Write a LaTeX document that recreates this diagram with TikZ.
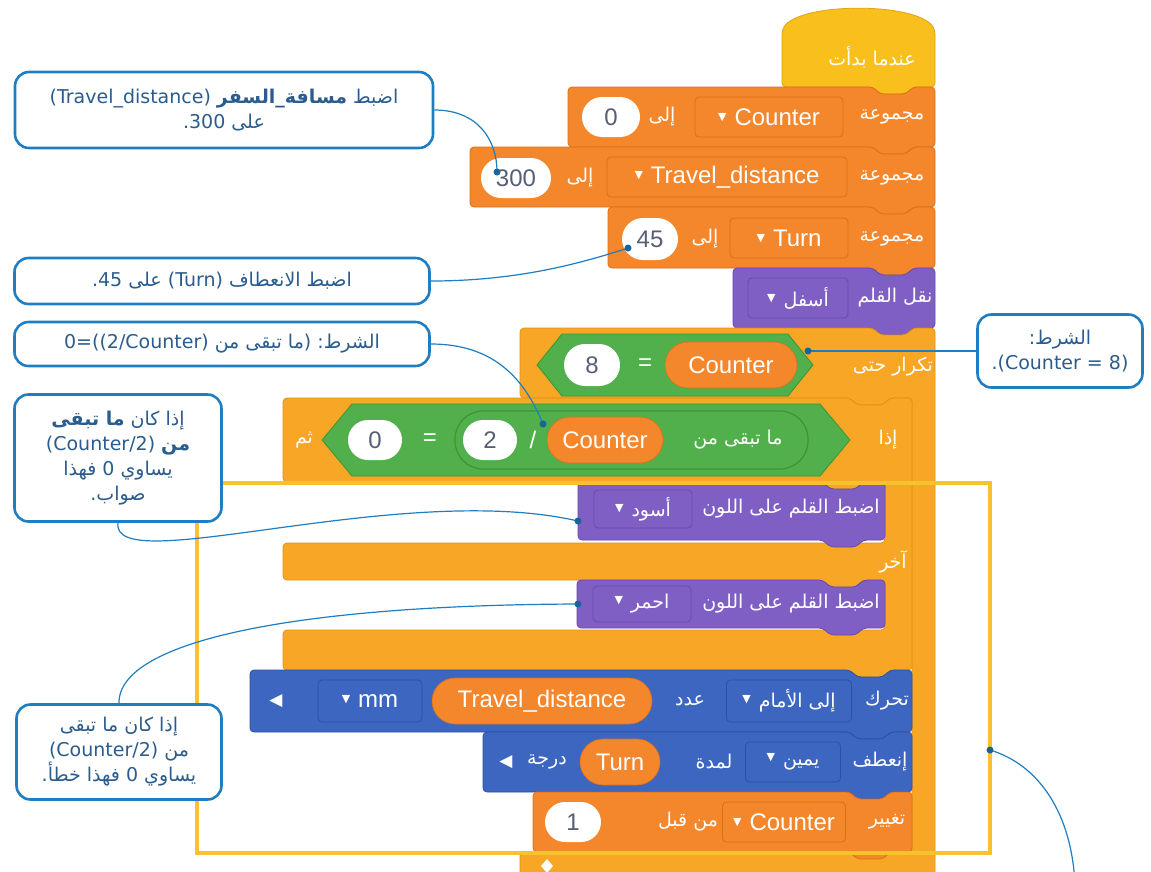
\documentclass[tikz,border=0pt]{standalone}
\usepackage{fontspec}
\usetikzlibrary{shapes.misc}
\TeXXeTstate=1
\newfontfamily\arabicfont[Script=Arabic]{DejaVu Sans}
\newfontfamily\latfont{DejaVu Sans}
\newfontfamily\blkfont{Liberation Sans}
\newcommand\ar[1]{{\arabicfont\beginR #1\endR}}
\newcommand\lat[1]{\beginL{\latfont #1}\endL}
\newcommand\tri{\raisebox{5pt}{\latfont\fontsize{11}{12}\selectfont ▼}}
\definecolor{hatY}{HTML}{F9BF1C}
\definecolor{hatYd}{HTML}{E0A612}
\definecolor{varO}{HTML}{F4862B}
\definecolor{varOd}{HTML}{D9701C}
\definecolor{ctlO}{HTML}{F7A725}
\definecolor{ctlOd}{HTML}{E29214}
\definecolor{penP}{HTML}{7F5FC3}
\definecolor{penPd}{HTML}{6849AE}
\definecolor{opG}{HTML}{51B04B}
\definecolor{opGd}{HTML}{3C9437}
\definecolor{motB}{HTML}{3C66C0}
\definecolor{motBd}{HTML}{2C52A6}
\definecolor{cBlue}{HTML}{1E7EC1}
\definecolor{cText}{HTML}{2A5C8E}
\definecolor{hl}{HTML}{F8C22E}
\definecolor{grayT}{HTML}{575E75}
\tikzset{
  blk/.style={line width=0.8pt, rounded corners=4pt},
  artxt/.style={text=white, font=\arabicfont\fontsize{19}{22}\selectfont, inner sep=0pt},
  lt/.style={text=white, font=\blkfont\fontsize{24}{28}\selectfont, inner sep=0pt},
  woval/.style={rounded rectangle, fill=white, text=grayT, font=\blkfont\fontsize{24}{28}\selectfont, inner sep=0pt},
  ooval/.style={rounded rectangle, fill=varO, draw=varOd, line width=0.6pt, text=white, font=\blkfont\fontsize{24}{28}\selectfont, inner sep=0pt},
  dd/.style={rectangle, rounded corners=4pt, draw=#1, line width=0.8pt, text=white, font=\blkfont\fontsize{24}{28}\selectfont, inner sep=0pt},
  ddar/.style={font=\arabicfont\fontsize{19}{22}\selectfont},
  callout/.style={rectangle, rounded corners=14pt, draw=cBlue, line width=2.6pt, fill=white, text=cText, align=center, font=\arabicfont\fontsize{19}{25}\selectfont, inner sep=2pt},
  conn/.style={draw=cBlue, line width=1.2pt},
  dotc/.style={fill=cBlue!80!black},
  hlbox/.style={draw=hl, line width=4pt},
  hexa/.style={fill=opG, draw=opGd, line width=0.8pt},
}
\newcommand\sblk[6]{\draw[blk, fill=#5, draw=#6] (#1,#2) -- ({#3-62},#2) -- ({#3-55},{#2+7}) -- ({#3-29},{#2+7}) -- ({#3-22},#2) -- (#3,#2) -- (#3,#4) -- ({#3-22},#4) -- ({#3-29},{#4+7}) -- ({#3-55},{#4+7}) -- ({#3-62},#4) -- (#1,#4) -- cycle;}
\begin{document}
\begin{tikzpicture}[x=1pt,y=-1pt]
\useasboundingbox (0,0) rectangle (1151,871);
\clip (0,0) rectangle (1151,871);
\fill[white] (0,0) rectangle (1151,871);
% ---------- top stack ----------
\draw[blk, fill=hatY, draw=hatYd] (782,87) -- (782,30) .. controls (800,2) and (917,2) .. (935,30) -- (935,87) -- (913,87) -- (906,94) -- (880,94) -- (873,87) -- cycle;
\node[artxt] (th) at (872,57) {\ar{عندما بدأت}};
% block 1
\sblk{568}{87}{935}{147}{varO}{varOd}
\node[artxt] (b1a) at (892,117) {\ar{مجموعة}};
\node[dd=varOd, fill=varO, minimum width=148pt, minimum height=40pt] (b1d) at (769,117) {\tri\hspace{8pt}Counter};
\node[artxt] (b1b) at (662,117) {\ar{إلى}};
\node[woval, minimum width=58pt, minimum height=40pt] (b1o) at (611,117) {0};
% block 2
\sblk{470}{147}{935}{207}{varO}{varOd}
\node[artxt] (b2a) at (892,178) {\ar{مجموعة}};
\node[dd=varOd, fill=varO, minimum width=240pt, minimum height=40pt] (b2d) at (727,177) {\tri\hspace{8pt}Travel\_distance};
\node[artxt] (b2b) at (580,178) {\ar{إلى}};
\node[woval, minimum width=70pt, minimum height=40pt] (b2o) at (516,178) {300};
% block 3
\sblk{608}{207}{935}{268}{varO}{varOd}
\node[artxt] (b3a) at (892,239) {\ar{مجموعة}};
\node[dd=varOd, fill=varO, minimum width=118pt, minimum height=40pt] (b3d) at (789,238) {\tri\hspace{8pt}Turn};
\node[artxt] (b3b) at (705,239) {\ar{إلى}};
\node[woval, minimum width=56pt, minimum height=42pt] (b3o) at (650,239) {45};
% block 4
\sblk{733}{268}{935}{328}{penP}{penPd}
\node[artxt] (b4a) at (895,298) {\ar{نقل القلم}};
\node[dd=penPd, fill=penP, ddar, minimum width=100pt, minimum height=40pt] (b4d) at (798,298) {\tri\hspace{8pt}\ar{أسفل}};
% ---------- repeat until ----------
\draw[blk, fill=ctlO, draw=ctlOd] (520,328) -- (873,328) -- (880,335) -- (906,335) -- (913,328) -- (935,328) -- (935,885) -- (520,885) -- (520,852) -- (912,852) -- (912,398) -- (890,398) -- (883,405) -- (857,405) -- (850,398) -- (520,398) -- cycle;
\node[artxt] (r1) at (893,367) {\ar{تكرار حتى}};
\draw[hexa] (537,365) -- (562,334) -- (788,334) -- (813,365) -- (788,396) -- (562,396) -- cycle;
\node[woval, minimum width=56pt, minimum height=42pt] (r8) at (592,365) {8};
\node[lt] (req) at (645,365) {=};
\node[ooval, minimum width=132pt, minimum height=46pt] (rc) at (731,365) {Counter};
\fill[white] (547,859) -- (553,866) -- (547,873) -- (541,866) -- cycle;
% ---------- if / else ----------
\draw[blk, fill=ctlO, draw=ctlOd] (283,398) -- (850,398) -- (857,405) -- (883,405) -- (890,398) -- (912,398) -- (912,670) -- (890,670) -- (883,677) -- (857,677) -- (850,670) -- (283,670) -- (283,630) -- (885,630) -- (885,580) -- (863,580) -- (856,587) -- (830,587) -- (823,580) -- (283,580) -- (283,543) -- (885,543) -- (885,482) -- (863,482) -- (856,489) -- (830,489) -- (823,482) -- (283,482) -- cycle;
\node[artxt] (i1) at (888,440) {\ar{إذا}};
\node[artxt] (i2) at (304,440) {\ar{ثم}};
\draw[hexa] (322,440) -- (352,404) -- (820,404) -- (850,440) -- (820,476) -- (352,476) -- cycle;
\node[woval, minimum width=54pt, minimum height=40pt] (i0) at (375,440) {0};
\node[lt] (ieq) at (430,440) {=};
\draw[fill=opG, draw=opGd, line width=1.2pt, rounded corners=28pt] (455,411) rectangle (808,469);
\node[woval, minimum width=54pt, minimum height=40pt] (i2o) at (490,440) {2};
\node[lt] (isl) at (533,440) {/};
\node[ooval, minimum width=116pt, minimum height=46pt] (ic) at (605,440) {Counter};
\node[artxt] (im) at (738,440) {\ar{ما تبقى من}};
\node[artxt] (e1) at (893,562) {\ar{آخر}};
% pen colour blocks
\sblk{578}{482}{885}{540}{penP}{penPd}
\node[artxt] (p1a) at (791,509) {\ar{اضبط القلم على اللون}};
\node[dd=penPd, fill=penP, ddar, minimum width=98pt, minimum height=38pt] (p1d) at (643,509) {\tri\hspace{8pt}\ar{أسود}};
\sblk{577}{580}{885}{628}{penP}{penPd}
\node[artxt] (p2a) at (791,604) {\ar{اضبط القلم على اللون}};
\node[dd=penPd, fill=penP, ddar, minimum width=98pt, minimum height=36pt] (p2d) at (642,604) {\tri\hspace{8pt}\ar{احمر}};
% ---------- move / turn / change ----------
\sblk{250}{670}{912}{732}{motB}{motBd}
\node[artxt] (m1) at (887,701) {\ar{تحرك}};
\node[dd=motBd, fill=motB, ddar, minimum width=125pt, minimum height=42pt] (m2d) at (789,701) {\tri\hspace{8pt}\ar{إلى الأمام}};
\node[artxt] (m3) at (690,701) {\ar{عدد}};
\node[ooval, minimum width=220pt, minimum height=46pt] (m4) at (542,701) {Travel\_distance};
\node[dd=motBd, fill=motB, minimum width=104pt, minimum height=42pt] (m5d) at (370,701) {\tri\hspace{8pt}mm};
\node[artxt, font=\latfont\fontsize{17}{20}\selectfont] (m6) at (276,701) {◀};
\sblk{483}{732}{912}{792}{motB}{motBd}
\node[artxt] (n1) at (880,762) {\ar{إنعطف}};
\node[dd=motBd, fill=motB, ddar, minimum width=95pt, minimum height=40pt] (n2d) at (793,762) {\tri\hspace{8pt}\ar{يمين}};
\node[artxt] (n3) at (714,762) {\ar{لمدة}};
\node[ooval, minimum width=80pt, minimum height=46pt] (n4) at (620,762) {Turn};
\node[artxt] (n5) at (547,762) {\ar{درجة}};
\node[artxt, font=\latfont\fontsize{17}{20}\selectfont] (n6) at (506,762) {◀};
\sblk{533}{792}{912}{852}{varO}{varOd}
\node[artxt] (c1t) at (887,822) {\ar{تغيير}};
\node[dd=varOd, fill=varO, minimum width=123pt, minimum height=40pt] (c2d) at (784,822) {\tri\hspace{8pt}Counter};
\node[artxt] (c3t) at (688,822) {\ar{من قبل}};
\node[woval, minimum width=56pt, minimum height=40pt] (c4o) at (573,822) {1};
% ---------- highlight ----------
\draw[hlbox] (197,483) rectangle (990,853);
% ---------- callouts ----------
\node[callout, minimum width=418pt, minimum height=76pt] (c1) at (224,110) {\ar{اضبط \textbf{مسافة\_السفر} \lat{(Travel\_distance)}}\\ \ar{على \lat{300}\kern0pt.}};
\node[callout, minimum width=415pt, minimum height=46pt] (c2) at (222,281) {\ar{اضبط الانعطاف \lat{(Turn)} على \lat{45}\kern0pt.}};
\node[callout, minimum width=415pt, minimum height=44pt] (c3) at (222,344) {{\latfont 0=((2/Counter)} \ar{ما تبقى من}{\latfont )} \ar{الشرط\kern0pt:}};
\node[callout, minimum width=207pt, minimum height=127pt] (c4) at (118,458) {\ar{إذا كان \textbf{ما تبقى}}\\ \ar{\textbf{من} \lat{(Counter/2)}}\\ \ar{يساوي 0 فهذا}\\ \ar{صواب\kern0pt.}};
\node[callout, minimum width=205pt, minimum height=95pt] (c5) at (119,752) {\ar{إذا كان ما تبقى}\\ \ar{من \lat{(Counter/2)}}\\ \ar{يساوي 0 فهذا خطأ\kern0pt.}};
\node[callout, minimum width=165pt, minimum height=73pt] (c6) at (1060,351) {\ar{الشرط\kern0pt:}\\ \ar{\lat{(Counter = 8)}\kern0pt.}};
% ---------- connectors ----------
\coordinate (k1) at (497,172);
\coordinate (k2) at (628,248);
\coordinate (k3) at (543,424);
\coordinate (k4) at (578,521);
\coordinate (k5) at (578,604);
\coordinate (k6) at (808,351);
\coordinate (k7) at (990,750);
\coordinate (k8) at (1075,885);
\draw[conn] (c1.east) .. controls (478,110) and (497,140) .. (k1);
\draw[conn] (c2.east) .. controls (520,281) and (585,262) .. (k2);
\draw[conn] (c3.east) .. controls (495,344) and (525,380) .. (k3);
\draw[conn] (c4.south) .. controls (110,580) and (400,480) .. (k4);
\draw[conn] (c5.north) .. controls (118,640) and (300,605) .. (k5);
\draw[conn] (c6.west) -- (k6);
\draw[conn] (k7) .. controls (1040,765) and (1072,815) .. (k8);
\foreach \k in {k1,k2,k3,k4,k5,k6,k7} \fill[dotc] (\k) circle (3.5pt);
\end{tikzpicture}
\end{document}
